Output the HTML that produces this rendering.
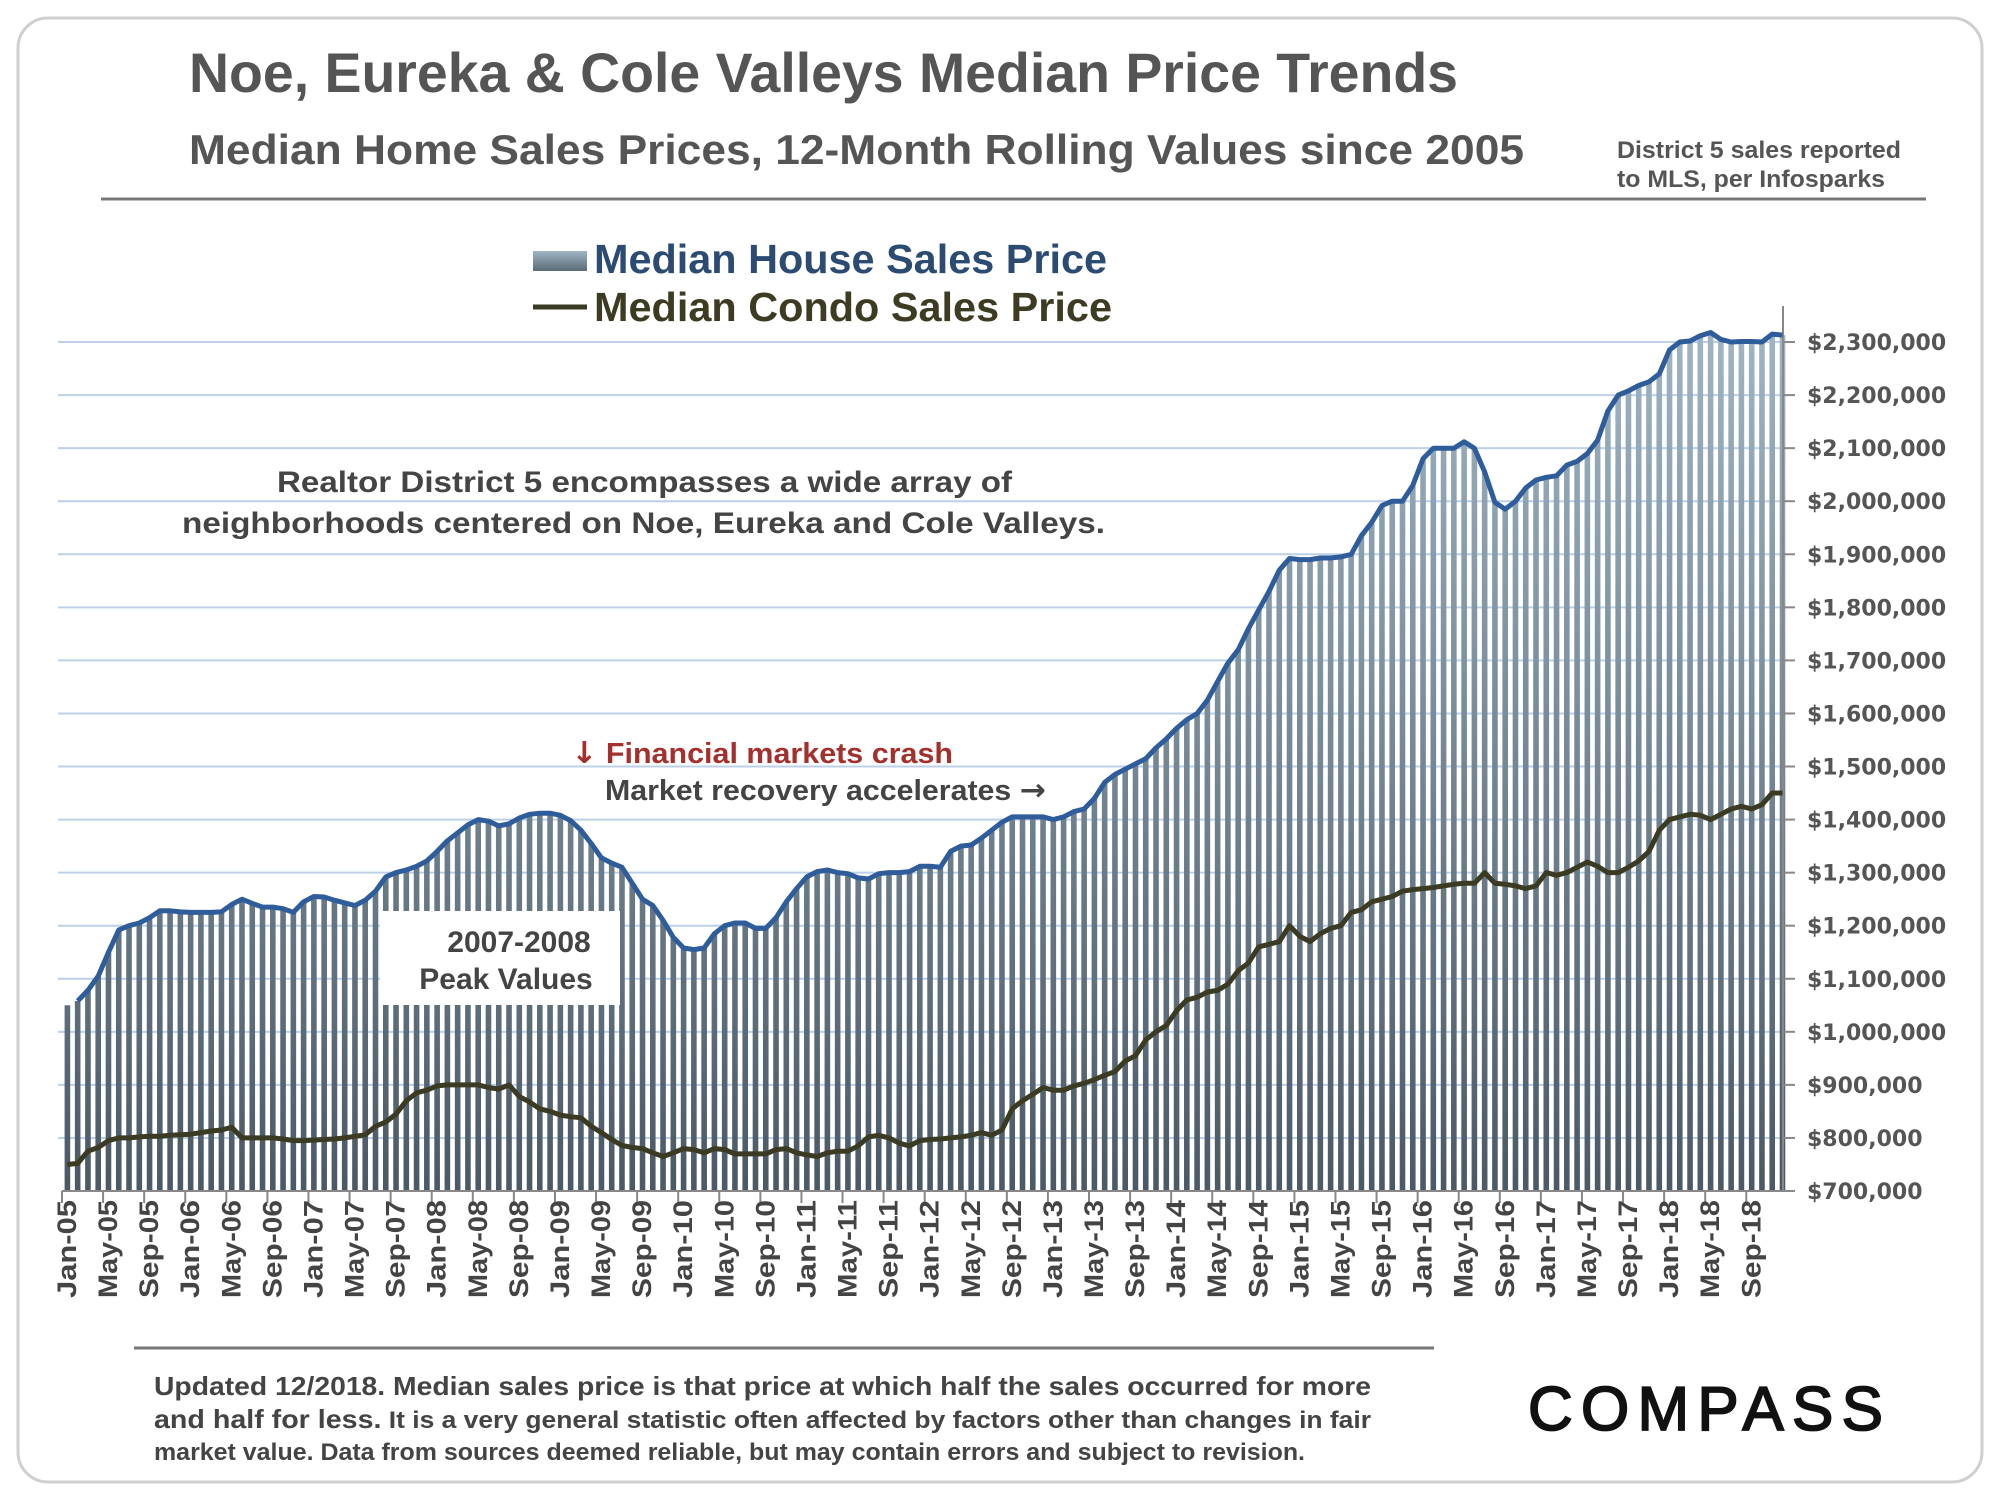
<!DOCTYPE html>
<html><head><meta charset="utf-8"><style>
html,body{margin:0;padding:0;background:#fff;}
svg{display:block;}
</style></head><body>
<svg id="chart" width="2000" height="1500" viewBox="0 0 2000 1500" xmlns="http://www.w3.org/2000/svg" font-family="Liberation Sans, Arial, sans-serif">
<defs>
<linearGradient id="barGrad" gradientUnits="userSpaceOnUse" x1="0" y1="320" x2="0" y2="1191">
<stop offset="0" stop-color="#9fb6c4"/><stop offset="1" stop-color="#4b5965"/>
</linearGradient>
<linearGradient id="swGrad" x1="0" y1="0" x2="0" y2="1">
<stop offset="0" stop-color="#9fb6c4"/><stop offset="1" stop-color="#5a6a76"/>
</linearGradient>
</defs>
<rect x="18" y="18" width="1964" height="1464" rx="30" fill="#fff" stroke="#cfcfcf" stroke-width="3"/>
<text x="189" y="92" font-size="56" font-weight="bold" fill="#555" textLength="1269" lengthAdjust="spacingAndGlyphs">Noe, Eureka &amp; Cole Valleys Median Price Trends</text>
<text x="189" y="164" font-size="42" font-weight="bold" fill="#555" textLength="1335" lengthAdjust="spacingAndGlyphs">Median Home Sales Prices, 12-Month Rolling Values since 2005</text>
<text font-size="24" font-weight="bold" fill="#555">
<tspan x="1617" y="158" textLength="284" lengthAdjust="spacingAndGlyphs">District 5 sales reported</tspan>
<tspan x="1617" y="187" textLength="268" lengthAdjust="spacingAndGlyphs">to MLS, per Infosparks</tspan></text>
<line x1="101" y1="199" x2="1926" y2="199" stroke="#777" stroke-width="3"/>
<g id="grid"></g>
<g id="bars"></g>
<rect x="380" y="911" width="240" height="94" fill="#fff"/>
<text font-size="30" font-weight="bold" fill="#444" text-anchor="middle">
<tspan x="519" y="952">2007-2008</tspan><tspan x="506" y="989">Peak Values</tspan></text>
<g id="axes"></g>
<g id="lines"></g>
<g>
<rect x="533" y="251" width="54" height="20" fill="url(#swGrad)"/>
<text x="594" y="273" font-size="41" font-weight="bold" fill="#2c4b73" textLength="513" lengthAdjust="spacingAndGlyphs">Median House Sales Price</text>
<line x1="533" y1="307" x2="587" y2="307" stroke="#3b3a22" stroke-width="5"/>
<text x="594" y="321" font-size="41" font-weight="bold" fill="#3d3b22" textLength="518" lengthAdjust="spacingAndGlyphs">Median Condo Sales Price</text>
</g>
<text font-size="30" font-weight="bold" fill="#444">
<tspan x="277" y="492" textLength="735" lengthAdjust="spacingAndGlyphs">Realtor District 5 encompasses a wide array of</tspan>
<tspan x="182" y="533" textLength="923" lengthAdjust="spacingAndGlyphs">neighborhoods centered on Noe, Eureka and Cole Valleys.</tspan></text>
<text x="571" y="763" font-size="29" font-weight="bold" fill="#a3302c" textLength="382" lengthAdjust="spacingAndGlyphs"><tspan font-family="DejaVu Sans, sans-serif" font-size="30">↓</tspan> Financial markets crash</text>
<text x="605" y="800" font-size="29" font-weight="bold" fill="#444" textLength="441" lengthAdjust="spacingAndGlyphs">Market recovery accelerates <tspan font-family="DejaVu Sans, sans-serif" font-size="30">→</tspan></text>
<line x1="134" y1="1348" x2="1434" y2="1348" stroke="#777" stroke-width="3"/>
<text font-weight="bold" fill="#444">
<tspan x="154" y="1395" font-size="26" textLength="1217" lengthAdjust="spacingAndGlyphs">Updated 12/2018. Median sales price is that price at which half the sales occurred for more</tspan>
<tspan x="154" y="1428" font-size="24" textLength="1217" lengthAdjust="spacingAndGlyphs"><tspan font-size="26">and half for less.</tspan> It is a very general statistic often affected by factors other than changes in fair</tspan>
<tspan x="154" y="1460" font-size="24" textLength="1151" lengthAdjust="spacingAndGlyphs">market value. Data from sources deemed reliable, but may contain errors and subject to revision.</tspan></text>
<text x="1528" y="1430" font-size="62" fill="#111" stroke="#111" stroke-width="1.8" textLength="365" lengthAdjust="spacing" letter-spacing="10">COMPASS</text>
</svg>
<script>
const houseValues = [
1050,1058,1078,1105,1150,1192,1200,1205,1215,1228,1228,1226,
1225,1225,1225,1226,1240,1250,1242,1235,1235,1232,1225,1245,
1255,1254,1248,1243,1238,1248,1265,1292,1300,1305,1312,1322,
1340,1360,1375,1390,1400,1397,1388,1392,1403,1410,1412,1412,
1408,1398,1380,1355,1328,1318,1310,1280,1250,1238,1210,1178,
1158,1155,1158,1185,1200,1205,1205,1195,1195,1215,1245,1270,
1292,1302,1305,1300,1298,1290,1288,1298,1300,1300,1302,1312,
1312,1310,1340,1350,1352,1365,1380,1395,1405,1405,1405,1405,
1400,1405,1415,1420,1440,1470,1485,1495,1505,1515,1535,1552,
1572,1588,1600,1625,1660,1695,1720,1760,1795,1830,1870,1892,
1890,1890,1893,1893,1895,1900,1935,1960,1992,2000,2000,2030,
2080,2100,2100,2100,2112,2100,2055,1998,1985,2000,2025,2040,
2045,2048,2068,2075,2090,2115,2170,2200,2208,2218,2225,2240,
2285,2300,2302,2312,2318,2305,2300,2301,2301,2300,2315,2313];
const condoValues = [
750,752,775,782,795,800,800,802,803,803,805,806,
807,810,813,815,820,800,800,800,800,798,795,795,
796,797,798,800,803,806,822,830,845,870,885,890,
898,900,900,900,900,895,892,900,878,868,855,850,
843,840,838,822,810,797,786,782,780,772,765,772,
780,778,772,780,778,770,770,770,770,778,780,772,
768,765,772,775,775,785,802,805,800,790,785,795,
797,798,800,802,805,810,805,815,855,870,882,895,
890,890,898,903,910,918,925,945,955,985,1000,1012,
1040,1060,1065,1075,1078,1090,1115,1130,1160,1165,1170,1200,
1180,1170,1185,1195,1200,1225,1230,1245,1250,1255,1265,1268,
1270,1272,1275,1278,1280,1280,1300,1280,1278,1275,1270,1275,
1300,1295,1300,1310,1320,1312,1300,1300,1310,1322,1340,1380,
1400,1405,1410,1408,1400,1410,1420,1425,1420,1428,1450,1450];
const yTicks = [700,800,900,1000,1100,1200,1300,1400,1500,1600,1700,1800,1900,2000,2100,2200,2300];
const yTickLabels = ["$700,000","$800,000","$900,000","$1,000,000","$1,100,000","$1,200,000","$1,300,000","$1,400,000","$1,500,000","$1,600,000","$1,700,000","$1,800,000","$1,900,000","$2,000,000","$2,100,000","$2,200,000","$2,300,000"];
const xTickLabels = ["Jan-05","May-05","Sep-05","Jan-06","May-06","Sep-06","Jan-07","May-07","Sep-07","Jan-08","May-08","Sep-08","Jan-09","May-09","Sep-09","Jan-10","May-10","Sep-10","Jan-11","May-11","Sep-11","Jan-12","May-12","Sep-12","Jan-13","May-13","Sep-13","Jan-14","May-14","Sep-14","Jan-15","May-15","Sep-15","Jan-16","May-16","Sep-16","Jan-17","May-17","Sep-17","Jan-18","May-18","Sep-18"];

const NS = "http://www.w3.org/2000/svg";
const X0 = 62, STEP = 10.27, Y0 = 1191, YK = 0.5306, XEND = 1783;
function xs(i){ return X0 + STEP*i; }
function ys(v){ return Y0 - (v-700)*YK; }
function mk(tag, attrs, parent){ const e=document.createElementNS(NS,tag); for(const k in attrs) e.setAttribute(k,attrs[k]); parent.appendChild(e); return e; }

const grid = document.getElementById('grid');
yTicks.forEach(function(v){
  if (v===700) return;
  const l = mk('line',{x1:58,x2:XEND,y1:ys(v),y2:ys(v),stroke:'#bcd0e8','stroke-width':2},grid);
  
  
});

const bars = document.getElementById('bars');
houseValues.forEach(function(v,i){
  const r = mk('rect',{x:xs(i)+2.6,y:ys(v),width:5.6,height:Y0-ys(v),fill:'url(#barGrad)'},bars);
  
  
});

const axes = document.getElementById('axes');
const ya = mk('line',{x1:XEND,x2:XEND,y1:306,y2:Y0,stroke:'#888','stroke-width':2},axes);


const xa = mk('line',{x1:X0,x2:XEND,y1:Y0,y2:Y0,stroke:'#888','stroke-width':2},axes);


yTicks.forEach(function(v,k){
  const t = mk('line',{x1:XEND,x2:XEND+12,y1:ys(v),y2:ys(v),stroke:'#888','stroke-width':2},axes);
  
  
  const tx = mk('text',{x:1807,y:ys(v)+8,'font-family':'DejaVu Sans, sans-serif','font-size':22,'font-weight':'bold',fill:'#555'},axes);
  tx.textContent = yTickLabels[k];
  
  
});
xTickLabels.forEach(function(lab,k){
  const x = xs(k*4);
  const t = mk('line',{x1:x,x2:x,y1:Y0,y2:Y0+12,stroke:'#888','stroke-width':2},axes);
  
  
  const tx = mk('text',{x:0,y:0,transform:'translate('+(x+14)+',1200) rotate(-90)','text-anchor':'end','font-size':27,'font-weight':'bold',fill:'#444',textLength:98,lengthAdjust:'spacingAndGlyphs'},axes);
  tx.textContent = lab;
  
  
});

const lines = document.getElementById('lines');
function pathFor(arr, start){ let d=''; for(let i=start;i<arr.length;i++){ d += (i===start?'M':'L') + (xs(i)+5.4).toFixed(1) + ',' + ys(arr[i]).toFixed(1); } return d; }
const hl = mk('path',{d:pathFor(houseValues,1),fill:'none',stroke:'#2f5c9b','stroke-width':5,'stroke-linejoin':'round'},lines);


const cl = mk('path',{d:pathFor(condoValues,0),fill:'none',stroke:'#3b3a22','stroke-width':5,'stroke-linejoin':'round'},lines);


</script>
</body></html>
